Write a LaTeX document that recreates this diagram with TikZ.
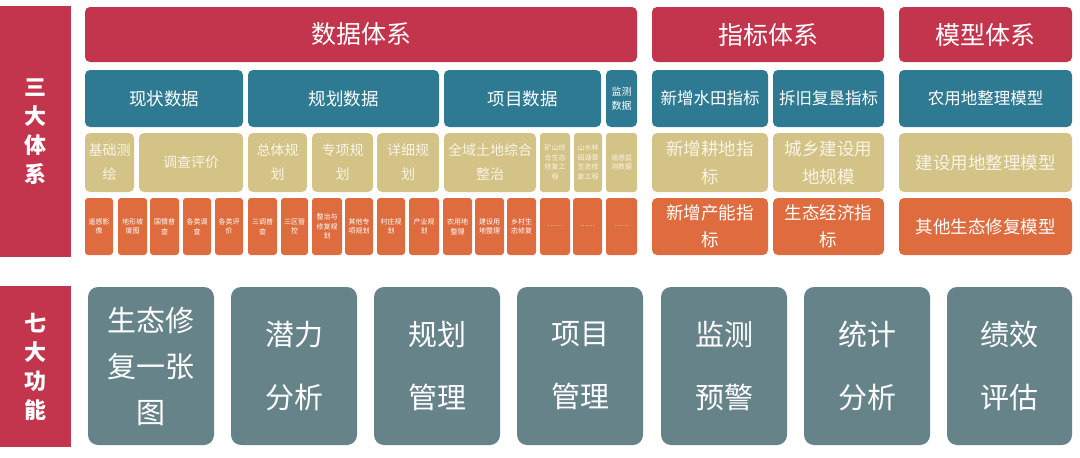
\documentclass[tikz,border=0pt]{standalone}
\usepackage{fontspec}
\setmainfont{Noto Sans CJK SC}
\definecolor{cred}{HTML}{C2354C}
\definecolor{cteal}{HTML}{2E7A92}
\definecolor{cyel}{HTML}{D3C387}
\definecolor{corg}{HTML}{DE6C3E}
\definecolor{cgray}{HTML}{67838A}
\definecolor{cyeltxt}{HTML}{FAF4E4}
\tikzset{
  base/.style={inner sep=0pt, align=center, rounded corners=5pt},
  redbox/.style={base, fill=cred, text=white, font=\fontsize{25}{29}\selectfont},
  tealbox/.style={base, fill=cteal, text=white, font=\fontsize{16.5}{20}\selectfont},
  yelbox/.style={base, fill=cyel, text=cyeltxt, font=\fontsize{14}{24}\selectfont},
  orgbox/.style={base, fill=corg, text=white, font=\fontsize{17.5}{27}\selectfont},
  tinyorg/.style={base, fill=corg, text=white, rounded corners=3pt, font=\fontsize{7}{9.5}\selectfont},
  tinyyel/.style={base, fill=cyel, text=cyeltxt, rounded corners=3pt, font=\fontsize{7}{9.5}\selectfont},
  graybox/.style={base, fill=cgray, text=white, rounded corners=10pt},
  sidebox/.style={inner sep=0pt, align=center, fill=cred, text=white, font=\bfseries\fontsize{22}{29}\selectfont},
}
\newcommand\bx[7]{\node[#6, minimum width={(#4-#2)*1pt}, minimum height={(#5-#3)*1pt}] (#1) at ({(#2+#4)/2},{(#3+#5)/2}) {#7};}
\begin{document}
\begin{tikzpicture}[x=1pt,y=-1pt]
\path[use as bounding box] (0,0) rectangle (1080,458);
% side
\bx{sA}{0}{6}{71}{257}{sidebox}{三\\大\\体\\系}
\bx{sB}{0}{286}{71}{447}{sidebox}{七\\大\\功\\能}
% top row
\bx{t1}{85}{7}{637}{62}{redbox}{数据体系}
\bx{t2}{652}{7}{884}{62}{redbox}{指标体系}
\bx{t3}{899}{7}{1072}{62}{redbox}{模型体系}
% teal row
\bx{a1}{85}{70}{243}{127}{tealbox, font=\fontsize{17.5}{21}\selectfont}{现状数据}
\bx{a2}{248}{70}{439}{127}{tealbox, font=\fontsize{17.5}{21}\selectfont}{规划数据}
\bx{a3}{444}{70}{601}{127}{tealbox, font=\fontsize{17.5}{21}\selectfont}{项目数据}
\bx{a4}{606}{70}{637}{127}{tealbox, font=\fontsize{10}{14}\selectfont}{监测\\数据}
\bx{a5}{652}{70}{768}{127}{tealbox}{新增水田指标}
\bx{a6}{773}{70}{884}{127}{tealbox}{拆旧复垦指标}
\bx{a7}{899}{70}{1072}{127}{tealbox}{农用地整理模型}
% yellow row
\bx{b1}{85}{133}{134}{192}{yelbox}{基础测\\绘}
\bx{b2}{139}{133}{243}{192}{yelbox}{调查评价}
\bx{b3}{248}{133}{307}{192}{yelbox}{总体规\\划}
\bx{b4}{312}{133}{373}{192}{yelbox}{专项规\\划}
\bx{b5}{377}{133}{439}{192}{yelbox}{详细规\\划}
\bx{b6}{444}{133}{536}{192}{yelbox}{全域土地综合\\整治}
\bx{b7}{540}{133}{570}{192}{tinyyel}{矿山综\\合生态\\修复工\\程}
\bx{b8}{574}{133}{602}{192}{tinyyel}{山水林\\田湖草\\生态修\\复工程}
\bx{b9}{606}{133}{637}{192}{tinyyel}{遥感监\\测数据}
\bx{b10}{652}{133}{768}{192}{yelbox, font=\fontsize{17.5}{28}\selectfont}{新增耕地指\\标}
\bx{b11}{773}{133}{884}{192}{yelbox, font=\fontsize{17.5}{28}\selectfont}{城乡建设用\\地规模}
\bx{b12}{899}{133}{1072}{192}{yelbox, font=\fontsize{17.5}{21}\selectfont}{建设用地整理模型}
% orange row
\bx{c1}{85}{198}{113}{255}{tinyorg}{遥感影\\像}
\bx{c2}{118}{198}{147}{255}{tinyorg}{地形坡\\度图}
\bx{c3}{150}{198}{179}{255}{tinyorg}{国情普\\查}
\bx{c4}{183}{198}{211}{255}{tinyorg}{各类调\\查}
\bx{c5}{215}{198}{243}{255}{tinyorg}{各类评\\价}
\bx{c6}{248}{198}{277}{255}{tinyorg}{三调普\\查}
\bx{c7}{281}{198}{308}{255}{tinyorg}{三区管\\控}
\bx{c8}{312}{198}{342}{255}{tinyorg}{整治与\\修复规\\划}
\bx{c9}{345}{198}{373}{255}{tinyorg}{其他专\\项规划}
\bx{c10}{377}{198}{405}{255}{tinyorg}{村庄规\\划}
\bx{c11}{409}{198}{439}{255}{tinyorg}{产业规\\划}
\bx{c12}{443}{198}{472}{255}{tinyorg}{农用地\\整理}
\bx{c13}{475}{198}{504}{255}{tinyorg}{建设用\\地整理}
\bx{c14}{507}{198}{536}{255}{tinyorg}{乡村生\\态修复}
\bx{c15}{540}{198}{570}{255}{tinyorg}{……}
\bx{c16}{573}{198}{602}{255}{tinyorg}{……}
\bx{c17}{606}{198}{637}{255}{tinyorg}{……}
\bx{c18}{652}{198}{768}{255}{orgbox}{新增产能指\\标}
\bx{c19}{773}{198}{884}{255}{orgbox}{生态经济指\\标}
\bx{c20}{899}{198}{1072}{255}{orgbox, font=\fontsize{17.5}{21}\selectfont}{其他生态修复模型}
% gray function boxes
\bx{g1}{88}{287}{214}{445}{graybox, font=\fontsize{29}{46}\selectfont}{生态修\\复一张\\图}
\bx{g2}{231}{287}{357}{445}{graybox, font=\fontsize{29}{63}\selectfont}{潜力\\分析}
\bx{g3}{374}{287}{500}{445}{graybox, font=\fontsize{29}{63}\selectfont}{规划\\管理}
\bx{g4}{517}{287}{643}{445}{graybox, font=\fontsize{29}{63}\selectfont}{项目\\管理}
\bx{g5}{661}{287}{787}{445}{graybox, font=\fontsize{29}{63}\selectfont}{监测\\预警}
\bx{g6}{804}{287}{930}{445}{graybox, font=\fontsize{29}{63}\selectfont}{统计\\分析}
\bx{g7}{947}{287}{1072}{445}{graybox, font=\fontsize{29}{63}\selectfont}{绩效\\评估}
\end{tikzpicture}
\end{document}
